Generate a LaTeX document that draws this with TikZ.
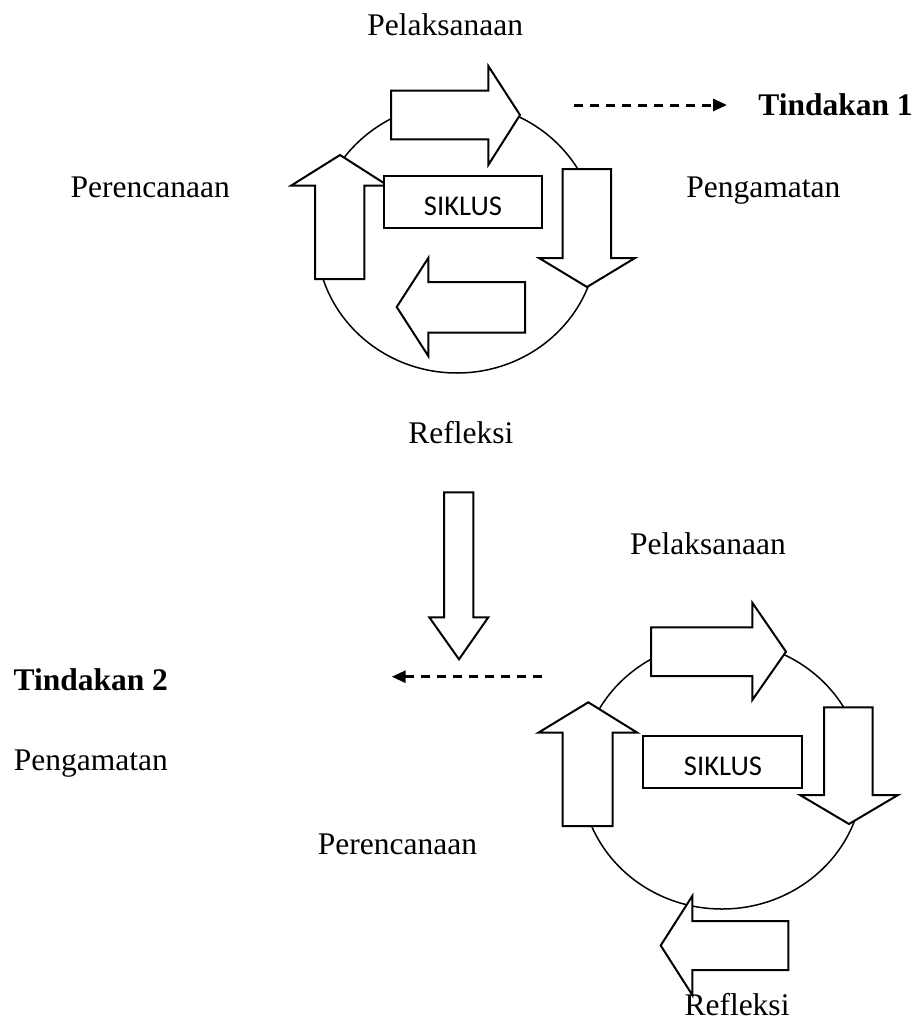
\documentclass[tikz,border=0pt]{standalone}
\usepackage{fontspec}
\setmainfont{Liberation Serif}
\newfontfamily\boxfont{Carlito}
\usetikzlibrary{arrows.meta}
\tikzset{
  lbl/.style={anchor=base, inner sep=0pt, font=\fontsize{31.5}{36}\selectfont},
  boldlbl/.style={lbl, font=\fontsize{31.5}{36}\selectfont\bfseries},
  blockarrow/.style={draw=black, fill=white, line width=2pt, line join=miter},
  cyc/.style={draw=black, line width=1.5pt},
  siklus/.style={draw=black, fill=white, line width=2pt},
  siklustext/.style={anchor=base, inner sep=0pt, font=\boxfont\fontsize{28.6}{32}\selectfont},
  dasharrow/.style={line width=3pt, dash pattern=on 9pt off 7pt, -{Triangle[length=14pt,width=12pt]}}
}
\begin{document}
\begin{tikzpicture}[x=1pt,y=-1pt]
\useasboundingbox (0,0) rectangle (915,1020);

% ---------- top cycle ----------
\draw[cyc] (457,238) ellipse [x radius=140.5, y radius=135];
% right arrow
\draw[blockarrow] (391,90.7) -- (488.3,90.7) -- (488.3,66) -- (520,115) -- (488.3,165) -- (488.3,139.3) -- (391,139.3) -- cycle;
% down arrow
\draw[blockarrow] (562.7,169) -- (611,169) -- (611,258) -- (635,258) -- (587,287) -- (539,258) -- (562.7,258) -- cycle;
% left arrow
\draw[blockarrow] (525,282) -- (525,332.7) -- (428.3,332.7) -- (428.3,356) -- (396.7,307) -- (428.3,258) -- (428.3,282) -- cycle;
% up arrow
\draw[blockarrow] (315,279) -- (315,185.7) -- (291,185.7) -- (340,155) -- (388,185.7) -- (364.3,185.7) -- (364.3,279) -- cycle;
% box
\draw[siklus] (384,176) rectangle (541.7,228);
\node[siklustext] (sik1) at (463,215) {SIKLUS};

\node[lbl] (pel1) at (445.3,35) {Pelaksanaan};
\node[lbl] (per1) at (150.3,197.3) {Perencanaan};
\node[lbl] (pen1) at (763.3,197.3) {Pengamatan};
\node[lbl] (ref1) at (460.8,443.3) {Refleksi};
\node[boldlbl] (tin1) at (835.5,115.5) {Tindakan 1};
\coordinate (d1s) at (574,105);
\coordinate (d1e) at (727,105);
\draw[dasharrow] (d1s) -- (d1e);

% ---------- middle down arrow ----------
\draw[blockarrow] (444,492.3) -- (473.3,492.3) -- (473.3,617.3) -- (488.3,617.3) -- (459,659.3) -- (429.3,617.3) -- (444,617.3) -- cycle;

\node[lbl] (pel2) at (708,554) {Pelaksanaan};
\node[boldlbl] (tin2) at (90.8,690.7) {Tindakan 2};
\node[lbl] (pen2) at (90.8,770.7) {Pengamatan};
\node[lbl] (per2) at (397.5,854.3) {Perencanaan};
\coordinate (d2s) at (541.7,676.7);
\coordinate (d2e) at (391.7,676.7);
\draw[dasharrow] (d2s) -- (d2e);

% ---------- bottom cycle ----------
\draw[cyc] (722,775) ellipse [x radius=141, y radius=134];
% right arrow
\draw[blockarrow] (651,627.3) -- (752.3,627.3) -- (752.3,602.7) -- (786,651.7) -- (752.3,700) -- (752.3,676) -- (651,676) -- cycle;
% down arrow
\draw[blockarrow] (824,707.3) -- (872.7,707.3) -- (872.7,795) -- (898,795) -- (849,824) -- (800,795) -- (824,795) -- cycle;
% up arrow
\draw[blockarrow] (562.7,826) -- (562.7,732.7) -- (538.3,732.7) -- (588.3,702.3) -- (637.3,732.7) -- (612.7,732.7) -- (612.7,826) -- cycle;
% box
\draw[siklus] (643.3,736) rectangle (801.7,787.7);
\node[siklustext] (sik2) at (723,775) {SIKLUS};
% left arrow
\draw[blockarrow] (788.3,921) -- (788.3,970) -- (692.3,970) -- (692.3,995) -- (660.7,945.5) -- (692.3,896) -- (692.3,921) -- cycle;

\node[lbl] (ref2) at (737,1015) {Refleksi};
\end{tikzpicture}
\end{document}
